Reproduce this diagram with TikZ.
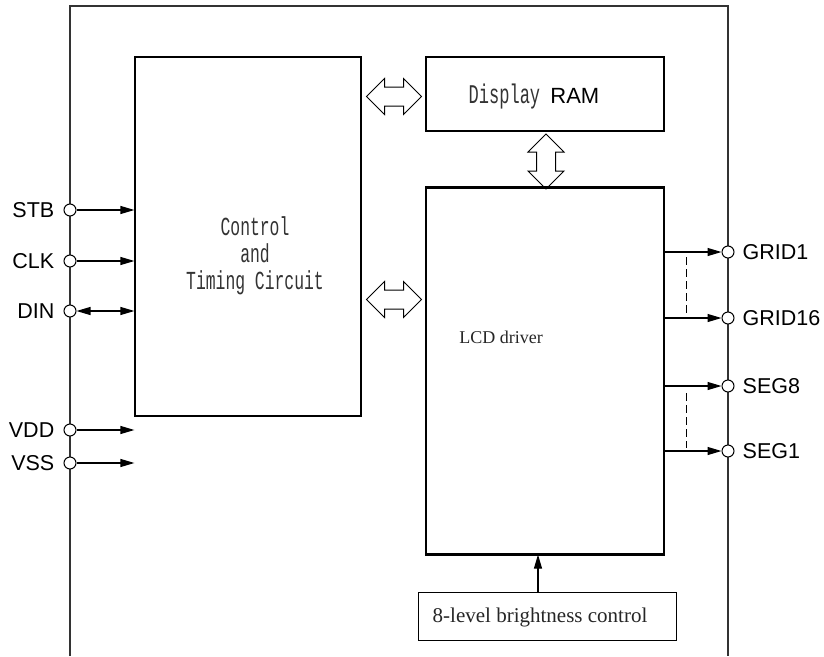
\documentclass[tikz,border=0pt]{standalone}
\usepackage{fontspec}
\setmainfont{Liberation Serif}
\newfontfamily\arialf{Liberation Sans}
\newfontfamily\monof[FakeStretch=0.63]{Liberation Mono}
\usetikzlibrary{arrows.meta,shapes.arrows}
\begin{document}
\begin{tikzpicture}[x=1pt,y=-1pt,
  box/.style={draw, line width=1.2pt, inner sep=0pt, fill=white},
  pinc/.style={circle, draw, line width=1pt, fill=white, minimum size=12pt, inner sep=0pt},
  sig/.style={line width=1.2pt, -{Triangle[length=14pt,width=8pt]}},
  bsig/.style={line width=1.2pt, {Triangle[length=14pt,width=8pt]}-{Triangle[length=14pt,width=8pt]}},
  dbl/.style={double arrow, draw, line width=1pt, double arrow head extend=8.5pt, inner xsep=0pt, inner ysep=9pt, minimum height=55pt},
  plab/.style={font=\arialf\fontsize{21.5}{21.5}\selectfont, inner sep=0pt},
  dsh/.style={line width=1pt, dash pattern=on 8pt off 4pt},
]
\useasboundingbox (0,0) rectangle (824,656);
% outer chip outline (open at the bottom)
\draw[line width=1.6pt, black!80] (70,656) -- (70,6) -- (728,6) -- (728,656);

% blocks
\node[box, minimum width=226pt, minimum height=359pt] (ctl) at (248,236.5) {};
\node[font=\monof\fontsize{26}{27}\selectfont, align=center, text=black!80] (ctltext) at (255,256) {Control\\and\\Timing Circuit};
\node[box, minimum width=238pt, minimum height=74pt] (ram) at (545,94) {};
\node[inner sep=0pt] (ramtext) at (534,97) {\monof\fontsize{27}{27}\selectfont\color{black!80}Display \arialf\fontsize{22}{22}\selectfont\color{black}RAM};
\node[box, minimum width=238pt, minimum height=366pt] (lcd) at (545,371) {};
\draw[line width=2.6pt] (lcd.north west) -- (lcd.north east);
\draw[line width=2.6pt] (lcd.south west) -- (lcd.south east);
\node[font=\fontsize{18}{18}\selectfont, text=black!85] (lcdtext) at (501,337) {LCD driver};
\node[box, line width=1pt, minimum width=258pt, minimum height=48pt] (bright) at (547,616) {};
\node[font=\fontsize{21}{21}\selectfont, text=black!85] (brighttext) at (540,617) {8-level brightness control};

% bus arrows
\node[dbl] (busram) at (394,96.5) {};
\node[dbl] (buslcd) at (394,299.5) {};
\node[dbl, rotate=90] (busv) at (546,161.5) {};

% brightness arrow
\coordinate (barrow) at (538,592);
\draw[sig] (barrow) -- (barrow |- lcd.south);

% left pins
\node[pinc, label={[plab, label distance=9pt]left:STB}] (stb) at (70,210) {};
\node[pinc, label={[plab, label distance=9pt]left:CLK}] (clk) at (70,261) {};
\node[pinc, label={[plab, label distance=9pt]left:DIN}] (din) at (70,311) {};
\node[pinc, label={[plab, label distance=9pt]left:VDD}] (vdd) at (70,430) {};
\node[pinc, label={[plab, label distance=9pt]left:VSS}] (vss) at (70,463) {};
\draw[sig] (stb) -- (stb -| ctl.west);
\draw[sig] (clk) -- (clk -| ctl.west);
\draw[bsig] (din) -- (din -| ctl.west);
\draw[sig] (vdd) -- (vdd -| ctl.west);
\draw[sig] (vss) -- (vss -| ctl.west);

% right pins
\node[pinc, label={[plab, label distance=8pt]right:GRID1}] (grid1) at (728,252) {};
\node[pinc, label={[plab, label distance=8pt]right:GRID16}] (grid16) at (728,318) {};
\node[pinc, label={[plab, label distance=8pt]right:SEG8}] (seg8) at (728,386) {};
\node[pinc, label={[plab, label distance=8pt]right:SEG1}] (seg1) at (728,451) {};
\draw[sig] (grid1 -| lcd.east) -- (grid1);
\draw[sig] (grid16 -| lcd.east) -- (grid16);
\draw[sig] (seg8 -| lcd.east) -- (seg8);
\draw[sig] (seg1 -| lcd.east) -- (seg1);
\draw[dsh] (686,257) -- (686,313);
\draw[dsh] (686,393) -- (686,448);
\end{tikzpicture}
\end{document}
